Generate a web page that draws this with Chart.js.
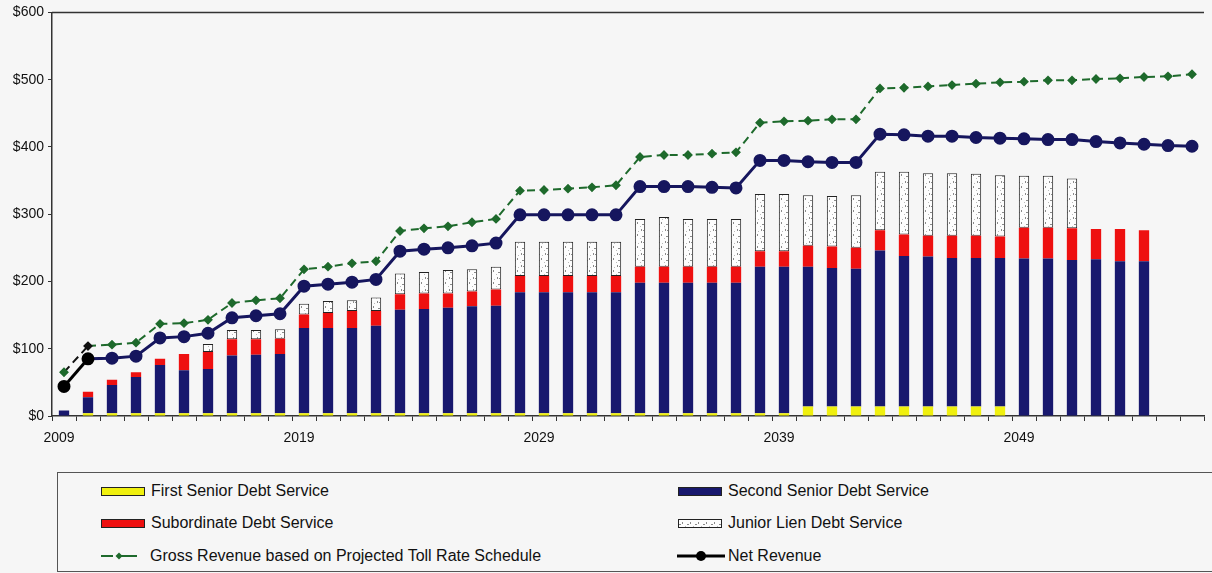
<!DOCTYPE html>
<html>
<head>
<meta charset="utf-8">
<title>Debt Service and Revenue</title>
<script src="https://cdn.jsdelivr.net/npm/chart.js@4.4.1/dist/chart.umd.min.js"></script>
<style>
  body { margin: 0; background: #f6f6f6; font-family: "Liberation Sans", Arial, sans-serif; }
  #wrap { position: relative; width: 1212px; height: 573px; overflow: hidden; }
  #chart { position: absolute; left: 0; top: 0; }
  #legend { position: absolute; left: 57px; top: 472px; width: 1170px; height: 100px; border: 1px solid #555; box-sizing: border-box; }
  .item { position: absolute; display: flex; align-items: center; font-size: 16px; color: #111; white-space: nowrap; }
  .item canvas { margin-right: 3px; }
</style>
</head>
<body>
<div id="wrap">
  <canvas id="chart" width="1212" height="454"></canvas>
  <div id="legend"></div>
</div>
<script>
'use strict';

const years = [
  2009, 2010, 2011, 2012, 2013, 2014, 2015, 2016, 2017, 2018,
  2019, 2020, 2021, 2022, 2023, 2024, 2025, 2026, 2027, 2028,
  2029, 2030, 2031, 2032, 2033, 2034, 2035, 2036, 2037, 2038,
  2039, 2040, 2041, 2042, 2043, 2044, 2045, 2046, 2047, 2048,
  2049, 2050, 2051, 2052, 2053, 2054, 2055, 2056
];

// debt service ($ millions), 2009 - 2054
const firstSenior = [
  null, 4, 4, 4, 4, 4, 4, 4, 4, 4,
  4, 4, 4, 4, 4, 4, 4, 4, 4, 4,
  4, 4, 4, 4, 4, 4, 4, 4, 4, 4,
  4, 14, 14, 14, 14, 14, 14, 14, 14, 14,
  null, null, null, null, null, null
];
const secondSenior = [
  8, 24, 42, 54, 72, 64, 66, 86, 87, 88,
  127, 127, 127, 130, 154, 155, 157, 159, 160, 180,
  180, 180, 180, 180, 194, 194, 194, 194, 194, 218,
  218, 208, 206, 205, 232, 224, 223, 221, 221, 221,
  234, 234, 232, 233, 230, 230
];
const subordinate = [
  null, 8, 8, 7, 9, 24, 25, 24, 23, 23,
  20, 22, 25, 22, 23, 23, 21, 22, 24, 24,
  24, 24, 24, 24, 24, 24, 24, 24, 24, 23,
  23, 31, 32, 31, 30, 32, 31, 33, 33, 32,
  46, 46, 47, 45, 48, 46
];
const juniorLien = [
  null, null, null, null, null, null, 12, 14, 14, 14,
  16, 18, 16, 20, 31, 32, 35, 33, 34, 51,
  51, 51, 51, 51, 71, 74, 71, 71, 71, 85,
  85, 75, 75, 78, 87, 93, 93, 93, 92, 91,
  77, 77, 74, null, null, null
];

// revenue ($ millions), 2009 - 2056
const grossRevenue = [
  65, 104, 106, 109, 137, 138, 143, 168, 172, 175,
  218, 222, 227, 230, 275, 279, 282, 288, 293, 335,
  336, 338, 340, 343, 385, 388, 388, 390, 392, 436,
  438, 439, 441, 441, 487, 488, 490, 492, 494, 496,
  497, 499, 499, 501, 502, 504, 505, 508
];
const netRevenue = [
  44, 85, 86, 89, 116, 118, 123, 146, 149, 152,
  193, 196, 199, 203, 245, 248, 250, 253, 257, 299,
  299, 299, 299, 299, 341, 341, 341, 340, 339, 380,
  380, 378, 377, 377, 419, 418, 416, 416, 414, 413,
  412, 411, 411, 408, 406, 404, 402, 401
];

const yearLabels = [2009, 2019, 2029, 2039, 2049];
const yMax = 600;
const yStep = 100;

const YELLOW = '#f0f00e';
const NAVY = '#18186e';
const RED = '#ee1010';
const GREEN = '#1e6a2c';
const LINE_NAVY = '#16165e';

// white fill with faint gray speckles for the junior lien bars
function speckle() {
  const c = document.createElement( 'canvas' );
  c.width = 8;
  c.height = 12;
  const g = c.getContext( '2d' );
  g.fillStyle = '#fdfdfd';
  g.fillRect( 0, 0, 8, 12 );
  g.fillStyle = '#8a8a8a';
  g.fillRect( 1, 1, 1, 2 );
  g.fillRect( 3, 2, 1, 1 );
  g.fillRect( 5, 6, 1, 2 );
  g.fillRect( 2, 8, 2, 1 );
  g.fillStyle = '#bbbbbb';
  g.fillRect( 6, 3, 1, 1 );
  g.fillRect( 0, 10, 1, 1 );
  return g.createPattern( c, 'repeat' );
}
const juniorFill = speckle();

const bar = { type: 'bar', stack: 'debt', order: 2, barPercentage: 0.43, categoryPercentage: 1 };

const frame = {
  id: 'frame',
  afterDraw( chart ) {
    const { ctx, chartArea } = chart;
    ctx.save();
    ctx.strokeStyle = '#333';
    ctx.lineWidth = 1.5;
    ctx.beginPath();
    ctx.moveTo( chartArea.left, chartArea.top );
    ctx.lineTo( chartArea.right, chartArea.top );
    ctx.stroke();
    ctx.restore();
  }
};

const ctx = document.getElementById( 'chart' ).getContext( '2d' );
const chart = new Chart( ctx, {
  data: {
    labels: years,
    datasets: [
      Object.assign( {}, bar, {
        label: 'First Senior Debt Service',
        data: firstSenior,
        backgroundColor: YELLOW
      } ),
      Object.assign( {}, bar, {
        label: 'Second Senior Debt Service',
        data: secondSenior,
        backgroundColor: NAVY
      } ),
      Object.assign( {}, bar, {
        label: 'Subordinate Debt Service',
        data: subordinate,
        backgroundColor: RED
      } ),
      Object.assign( {}, bar, {
        label: 'Junior Lien Debt Service',
        data: juniorLien,
        backgroundColor: juniorFill,
        borderColor: '#222',
        borderWidth: 1,
        borderSkipped: false
      } ),
      {
        type: 'line',
        label: 'Gross Revenue based on Projected Toll Rate Schedule',
        data: grossRevenue,
        stack: 'gross',
        order: 1,
        borderColor: GREEN,
        borderWidth: 2,
        borderDash: [8, 5],
        pointStyle: 'rectRot',
        pointRadius: 3.5,
        pointBackgroundColor: years.map( ( y, i ) => i === 1 ? '#111' : GREEN ),
        pointBorderColor: years.map( ( y, i ) => i === 1 ? '#111' : GREEN ),
        segment: { borderColor: s => s.p0DataIndex === 0 ? '#111' : GREEN },
        tension: 0
      },
      {
        type: 'line',
        label: 'Net Revenue',
        data: netRevenue,
        stack: 'net',
        order: 0,
        borderColor: LINE_NAVY,
        borderWidth: 3,
        pointStyle: 'circle',
        pointRadius: 5,
        pointBackgroundColor: years.map( ( y, i ) => i < 2 ? '#000' : LINE_NAVY ),
        pointBorderColor: years.map( ( y, i ) => i < 2 ? '#000' : LINE_NAVY ),
        segment: { borderColor: s => s.p0DataIndex === 0 ? '#000' : LINE_NAVY },
        tension: 0
      }
    ]
  },
  options: {
    responsive: false,
    animation: false,
    layout: { padding: { top: 12, right: 0, left: 0, bottom: 0 } },
    plugins: { legend: { display: false }, tooltip: { enabled: false } },
    scales: {
      x: {
        stacked: true,
        offset: true,
        grid: { offset: true, drawOnChartArea: false, tickLength: 5, color: '#333', tickColor: '#333' },
        border: { color: '#333', width: 1.5 },
        ticks: {
          autoSkip: false,
          maxRotation: 0,
          padding: 9,
          labelOffset: -5,
          color: '#111',
          font: { family: '"Liberation Sans", Arial, sans-serif', size: 14 },
          callback: function( v, i ) {
            const yr = years[i];
            return yearLabels.includes( yr ) ? String( yr ) : '';
          }
        },
        afterFit: s => { s.height = 38; }
      },
      y: {
        stacked: true,
        min: 0,
        max: yMax,
        grid: { drawOnChartArea: false, tickLength: 4, color: '#333', tickColor: '#333' },
        border: { color: '#333', width: 1.5 },
        ticks: {
          stepSize: yStep,
          padding: 4,
          color: '#111',
          font: { family: '"Liberation Sans", Arial, sans-serif', size: 14 },
          callback: v => '$' + v
        },
        afterFit: s => { s.width = 52; }
      }
    }
  },
  plugins: [frame]
} );

// legend in two columns under the plot
const legendSlots = [
  { left: 42, top: 18 }, { left: 619, top: 18 },
  { left: 42, top: 50 }, { left: 619, top: 50 },
  { left: 42, top: 83 }, { left: 619, top: 83 }
];

function swatch( ds ) {
  const c = document.createElement( 'canvas' );
  c.width = 48;
  c.height = 14;
  const g = c.getContext( '2d' );
  if ( ds.type === 'bar' ) {
    g.fillStyle = ds.backgroundColor;
    g.fillRect( 1, 3, 44, 9 );
    g.strokeStyle = '#222';
    g.lineWidth = 1;
    g.strokeRect( 1.5, 3.5, 43, 8 );
  } else if ( ds.pointStyle === 'rectRot' ) {
    c.width = 40;
    g.strokeStyle = ds.borderColor;
    g.lineWidth = 2;
    g.beginPath();
    g.moveTo( 1, 7 );
    g.lineTo( 13, 7 );
    g.moveTo( 21, 7 );
    g.lineTo( 37, 7 );
    g.stroke();
    g.fillStyle = ds.borderColor;
    g.beginPath();
    g.moveTo( 19, 3.5 );
    g.lineTo( 22.5, 7 );
    g.lineTo( 19, 10.5 );
    g.lineTo( 15.5, 7 );
    g.closePath();
    g.fill();
  } else {
    g.strokeStyle = '#000';
    g.lineWidth = 3;
    g.beginPath();
    g.moveTo( 0, 7 );
    g.lineTo( 48, 7 );
    g.stroke();
    g.fillStyle = '#000';
    g.beginPath();
    g.arc( 24, 7, 5, 0, Math.PI * 2 );
    g.fill();
  }
  return c;
}

const legend = document.getElementById( 'legend' );
chart.data.datasets.forEach( ( ds, i ) => {
  const item = document.createElement( 'div' );
  item.className = 'item';
  item.style.left = legendSlots[i].left + 'px';
  item.style.top = ( legendSlots[i].top - 9 ) + 'px';
  item.style.height = '18px';
  const sw = swatch( ds );
  if ( ds.pointStyle === 'rectRot' ) sw.style.marginRight = '10px';
  item.appendChild( sw );
  const txt = document.createElement( 'span' );
  txt.textContent = ds.label;
  item.appendChild( txt );
  legend.appendChild( item );
} );
</script>
</body>
</html>
